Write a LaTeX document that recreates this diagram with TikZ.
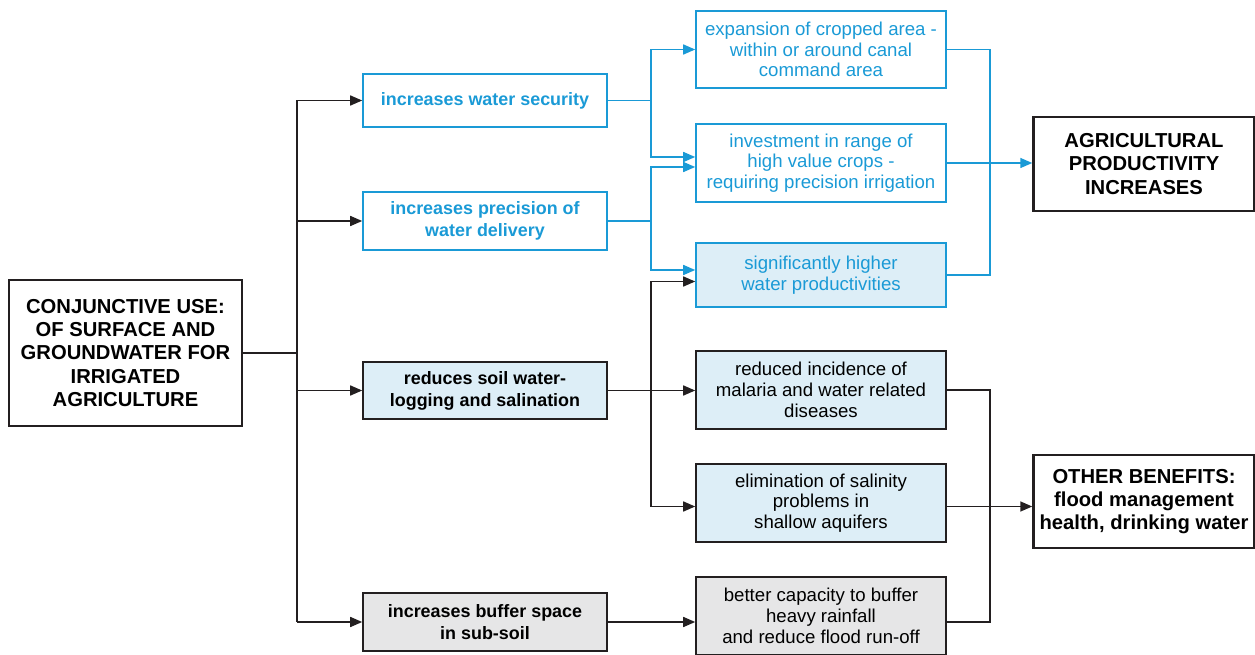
\documentclass[tikz,border=0pt]{standalone}
\usepackage{fontspec}
\setmainfont{Liberation Sans}
\usetikzlibrary{arrows.meta}
\tikzset{
    bigbox/.style={draw=colorblk, line width=1.4pt, align=center, inner sep=2pt,
        font=\fontsize{11.5}{13.2}\selectfont\bfseries},
    midbox/.style={draw=colorblk, line width=0.9pt, align=center, inner sep=1pt,
        minimum width=4.88cm, font=\fontsize{10.2}{12.5}\selectfont\bfseries},
    effbox/.style={draw=colorblk, line width=0.9pt, align=center, inner sep=1pt,
        minimum width=5cm, font=\fontsize{10.6}{11.8}\selectfont},
    bluebox/.style={draw=colori, text=colori},
    link/.style={line width=0.85pt, draw=colorblk, ->}
}

\begin{document}
\begin{tikzpicture}[>={Triangle[length=2.4mm,width=2mm]}]
\definecolor{colori}{RGB}{26,154,214}
\definecolor{colorii}{RGB}{221,238,247}
\definecolor{coloriii}{RGB}{230,230,231}
\definecolor{colorblk}{RGB}{35,31,32}

\useasboundingbox (0,0) rectangle (25.1,13.1);

% left
\node[bigbox, minimum width=4.66cm, minimum height=2.92cm] (conj) at (2.51,6.04)
  {CONJUNCTIVE USE:\\OF SURFACE AND\\GROUNDWATER FOR\\IRRIGATED\\AGRICULTURE};

% second column
\node[midbox, bluebox, minimum height=1.06cm] (acti) at (9.70,11.09) {increases water security};
\node[midbox, bluebox, minimum height=1.16cm] (actii) at (9.70,8.68) {increases precision of\\water delivery};
\node[midbox, fill=colorii, minimum height=1.14cm] (actiii) at (9.70,5.29) {reduces soil water-\\logging and salination};
\node[midbox, fill=coloriii, minimum height=1.16cm] (activ) at (9.70,0.66) {increases buffer space\\in sub-soil};

% third column
\node[effbox, bluebox, minimum height=1.54cm] (effi) at (16.42,12.11)
  {expansion of cropped area -\\within or around canal\\command area};
\node[effbox, bluebox, minimum height=1.56cm] (effii) at (16.42,9.84)
  {investment in range of\\high value crops -\\requiring precision irrigation};
\node[effbox, bluebox, fill=colorii, minimum height=1.28cm] (effiii) at (16.42,7.60)
  {significantly higher\\water productivities};
\node[effbox, fill=colorii, minimum height=1.56cm] (effiv) at (16.42,5.30)
  {reduced incidence of\\malaria and water related\\diseases};
\node[effbox, fill=colorii, minimum height=1.56cm] (effv) at (16.42,3.04)
  {elimination of salinity\\problems in\\shallow aquifers};
\node[effbox, fill=coloriii, minimum height=1.56cm] (effvi) at (16.42,0.78)
  {better capacity to buffer\\heavy rainfall\\and reduce flood run-off};

% right
\node[bigbox, minimum width=4.42cm, minimum height=1.88cm] (resi) at (22.88,9.82)
  {AGRICULTURAL\\PRODUCTIVITY\\INCREASES};
\node[bigbox, minimum width=4.42cm, minimum height=1.86cm] (resii) at (22.88,3.07)
  {OTHER BENEFITS:\\flood management\\health, drinking water};

\coordinate (trunk) at (5.94,6.04);
\coordinate (midi) at (13.02,6.04);
\coordinate (righti) at (19.8,6.04);

% from the main box
\draw[link,-] (conj.east) -- (trunk);
\draw[link,-] (trunk |- acti.west) -- (trunk |- activ.west);
\foreach \n in {acti,actii,actiii,activ}
  \draw[link] (trunk |- \n.west) -- (\n.west);

% blue links
\draw[link, draw=colori] (acti.east) -- (midi |- acti.east) |- (effi.west);
\draw[link, draw=colori] (midi |- acti.east) |- ([yshift=0.12cm]effii.west);
\draw[link, draw=colori] (actii.east) -- (midi |- actii.east) |- ([yshift=-0.08cm]effii.west);
\draw[link, draw=colori] (midi |- actii.east) |- ([yshift=0.1cm]effiii.west);

% black links
\draw[link] (actiii.east) -- (actiii.east -| effiv.west);
\draw[link] (midi |- actiii.east) |- ([yshift=-0.13cm]effiii.west);
\draw[link] (midi |- actiii.east) |- ([yshift=-0.07cm]effv.west);
\draw[link] (activ.east) -- (activ.east -| effvi.west);

% to the results
\draw[link,-, draw=colori] (effi.east) -- (righti |- effi.east) -- (righti |- effiii.east) -- (effiii.east);
\draw[link, draw=colori] (effii.east) -- (effii.east -| resi.west);
\draw[link,-] (effiv.east) -- (righti |- effiv.east) -- (righti |- activ.east) -- (activ.east -| effvi.east);
\draw[link] ([yshift=-0.07cm]effv.east) -- ([yshift=-0.07cm]effv.east -| resii.west);
\end{tikzpicture}
\end{document}
